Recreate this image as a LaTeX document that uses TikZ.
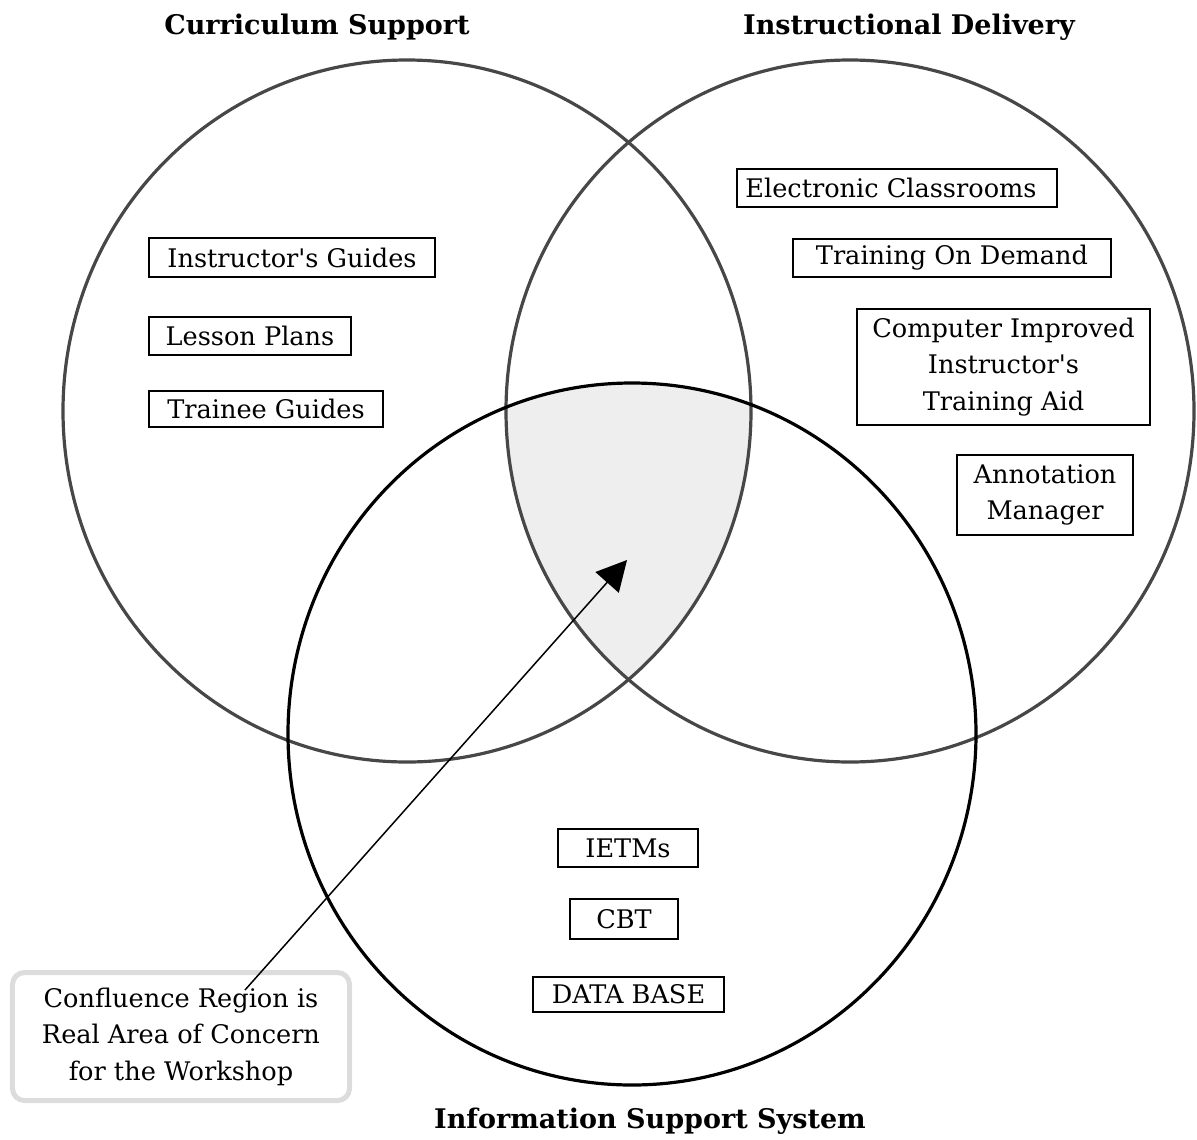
\documentclass[tikz,border=0pt]{standalone}
\usepackage{fontspec}
\setmainfont{DejaVu Serif}
\usetikzlibrary{arrows.meta}
\definecolor{circgray}{HTML}{474747}
\definecolor{shadegray}{HTML}{EEEEEE}
\definecolor{calloutgray}{HTML}{DCDCDC}
\newcommand\itemfont{\fontsize{25.6bp}{36.5bp}\selectfont}
\newcommand\headfont{\fontsize{27bp}{30bp}\selectfont\bfseries}
\tikzset{
  itembox/.style={draw=black, line width=1.6bp, inner sep=0pt, font=\itemfont, align=center},
  headlabel/.style={font=\headfont, inner sep=0pt},
  venn/.style={line width=3.2bp},
  rad/.style={x radius=344, y radius=351},
}
\begin{document}
\begin{tikzpicture}[x=1bp,y=-1bp]
\useasboundingbox (0,0) rectangle (1197,1140);
\coordinate (cL) at (407,411);
\coordinate (cR) at (850,411);
\coordinate (cB) at (632,734);
% confluence region
\begin{scope}
  \clip (cL) ellipse [rad];
  \clip (cR) ellipse [rad];
  \fill[shadegray] (cB) ellipse [rad];
\end{scope}
% circles
\draw[venn, draw=circgray] (cL) ellipse [rad];
\draw[venn, draw=circgray] (cR) ellipse [rad];
\draw[venn, draw=black] (cB) ellipse [rad];
% titles
\node[headlabel] (tCS) at (317,27) {Curriculum Support};
\node[headlabel] (tID) at (909,27) {Instructional Delivery};
\node[headlabel] (tIS) at (650,1121) {Information Support System};
% curriculum items
\node[itembox, minimum width=286bp, minimum height=39bp] (ig) at (292,257.5) {Instructor\textquotesingle s Guides};
\node[itembox, minimum width=202bp, minimum height=38bp] (lp) at (250,336) {Lesson Plans};
\node[itembox, minimum width=234bp, minimum height=36bp] (tg) at (266,409) {Trainee Guides};
% delivery items
\node[itembox, minimum width=320bp, minimum height=38bp] (ec) at (897,188) {Electronic Classrooms\hspace*{12bp}};
\node[itembox, minimum width=318bp, minimum height=38bp] (tod) at (952,258) {Training On Demand};
\node[itembox, minimum width=293bp, minimum height=116bp] (ci) at (1003.5,367) {Computer Improved\\Instructor\textquotesingle s\\Training Aid};
\node[itembox, minimum width=176bp, minimum height=80bp] (am) at (1045,495) {Annotation\\Manager};
% information items
\node[itembox, minimum width=140bp, minimum height=38bp] (ietm) at (628,848) {IETMs};
\node[itembox, minimum width=108bp, minimum height=40bp] (cbt) at (624,919) {CBT};
\node[itembox, minimum width=191bp, minimum height=35bp] (db) at (628.5,994.5) {DATA BASE};
% callout
\node[draw=calloutgray, line width=5bp, rounded corners=12bp, minimum width=337bp, minimum height=128bp, inner sep=0pt, align=center, font=\itemfont] (callout) at (181,1036.5) {Confluence Region is\\Real Area of Concern\\for the Workshop};
\coordinate (arrowstart) at (245,990);
\coordinate (arrowtip) at (627,560);
\draw[line width=1.5bp, -{Triangle[length=30bp,width=31bp]}] (arrowstart) -- (arrowtip);
\end{tikzpicture}
\end{document}
